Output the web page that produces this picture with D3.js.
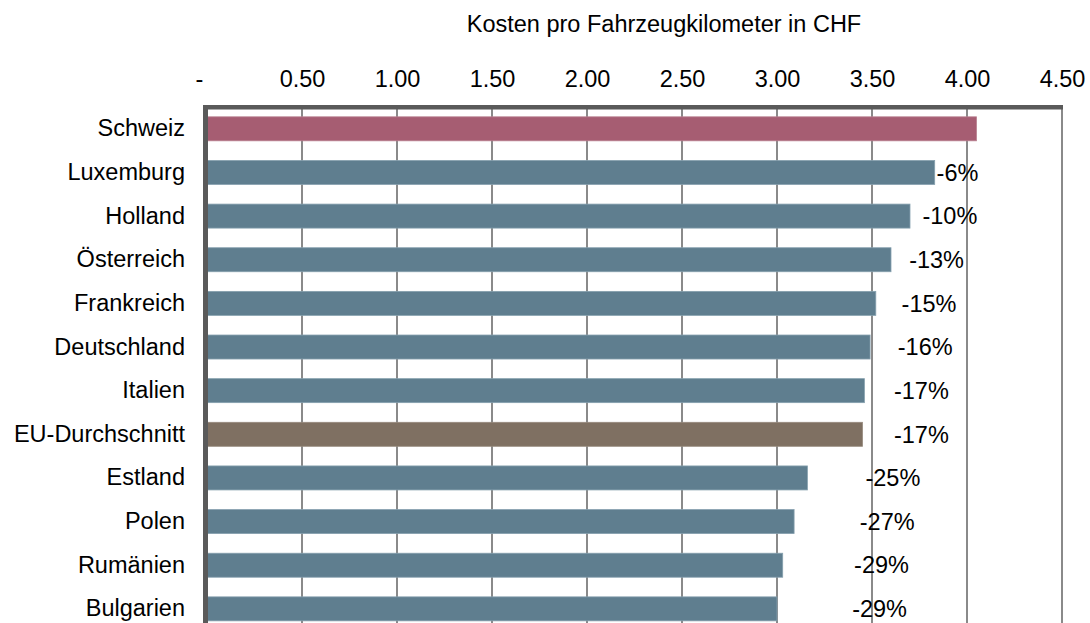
<!DOCTYPE html>
<html>
<head>
<meta charset="utf-8">
<script src="https://cdn.jsdelivr.net/npm/d3@7"></script>
<style>
  body { margin: 0; background: #fff; }
  svg text { font-family: "Liberation Sans", Arial, sans-serif; font-size: 23.5px; fill: #000; }
</style>
</head>
<body>
<svg id="chart" width="1090" height="623"></svg>
<script>
// data
var countries = ["Schweiz","Luxemburg","Holland","Österreich","Frankreich","Deutschland","Italien","EU-Durchschnitt","Estland","Polen","Rumänien","Bulgarien"];
var costs = [4.05, 3.83, 3.70, 3.60, 3.52, 3.49, 3.46, 3.45, 3.16, 3.09, 3.03, 3.00];
var diffLabels = ["", "-6%", "-10%", "-13%", "-15%", "-16%", "-17%", "-17%", "-25%", "-27%", "-29%", "-29%"];
// where the data labels sit (in CHF, as placed in the original)
var labelAt = [0, 3.95, 3.91, 3.84, 3.80, 3.78, 3.76, 3.76, 3.61, 3.58, 3.55, 3.54];
var ticks = [0, 0.5, 1, 1.5, 2, 2.5, 3, 3.5, 4, 4.5];
var title = "Kosten pro Fahrzeugkilometer in CHF";

var colSwiss = "#a65d72", colEU = "#7f7062", colOther = "#5f7e8f";

var plotLeft = 207, plotRight = 1062, plotTop = 107, H = 623;
var svg = d3.select("#chart");

var x = d3.scaleLinear().domain([0, 4.5]).range([plotLeft, plotRight]);
var y = d3.scaleBand()
    .domain(countries)
    .range([plotTop, plotTop + countries.length * 43.64])
    .paddingInner(0.45)
    .paddingOuter(0.225);

// title
svg.append("text")
    .attr("x", 664)
    .attr("y", 32)
    .attr("text-anchor", "middle")
    .text(title);

// gridlines
svg.append("g")
    .selectAll("line")
    .data(ticks.filter(function(t){ return t > 0; }))
    .enter().append("line")
    .attr("x1", function(d){ return x(d); })
    .attr("x2", function(d){ return x(d); })
    .attr("y1", plotTop)
    .attr("y2", H)
    .attr("stroke", "#8a8a8a")
    .attr("stroke-width", 2);

// top axis (labels only)
var xAxis = svg.append("g")
    .attr("transform", "translate(0," + plotTop + ")")
    .call(d3.axisTop(x).tickValues(ticks).tickSize(0).tickPadding(20)
        .tickFormat(function(d){ return d === 0 ? "-" : d3.format(".2f")(d); }));
xAxis.select(".domain").remove();
xAxis.selectAll("text")
    .style("font-family", "Liberation Sans, Arial, sans-serif")
    .style("font-size", "23.5px")
    .attr("fill", "#000")
    .attr("dx", function(d){ return d === 0 ? -8 : 0; });

// bars
svg.append("g")
    .selectAll("rect")
    .data(countries)
    .enter().append("rect")
    .attr("x", x(0))
    .attr("y", function(d){ return y(d); })
    .attr("width", function(d, i){ return x(costs[i]) - x(0); })
    .attr("height", y.bandwidth())
    .attr("fill", function(d){
        if (d === "Schweiz") return colSwiss;
        if (d === "EU-Durchschnitt") return colEU;
        return colOther;
    })
    .attr("stroke", function(d){
        if (d === "Schweiz") return "#b98090";
        if (d === "EU-Durchschnitt") return "#978a7e";
        return "#86a0ae";
    })
    .attr("stroke-width", 0.8);

// percentage labels
svg.append("g")
    .selectAll("text")
    .data(countries)
    .enter().append("text")
    .attr("x", function(d, i){ return x(labelAt[i]); })
    .attr("y", function(d){ return y(d) + y.bandwidth() / 2; })
    .attr("dy", "0.35em")
    .attr("text-anchor", "middle")
    .text(function(d, i){ return diffLabels[i]; });

// category axis
var yAxis = svg.append("g")
    .attr("transform", "translate(" + plotLeft + ",0)")
    .call(d3.axisLeft(y).tickSize(0).tickPadding(22));
yAxis.select(".domain").remove();
yAxis.selectAll("text")
    .style("font-family", "Liberation Sans, Arial, sans-serif")
    .style("font-size", "23.5px")
    .attr("fill", "#000");

// frame: right border, thick top and left lines
svg.append("line")
    .attr("x1", plotRight).attr("x2", plotRight)
    .attr("y1", plotTop).attr("y2", H)
    .attr("stroke", "#8a8a8a")
    .attr("stroke-width", 2);
svg.append("rect")
    .attr("x", 203).attr("y", 105)
    .attr("width", plotRight - 203 + 1).attr("height", 4.5)
    .attr("fill", "#5a5a5a");
svg.append("rect")
    .attr("x", 203).attr("y", 105)
    .attr("width", 5).attr("height", H - 105)
    .attr("fill", "#5a5a5a");
</script>
</body>
</html>
